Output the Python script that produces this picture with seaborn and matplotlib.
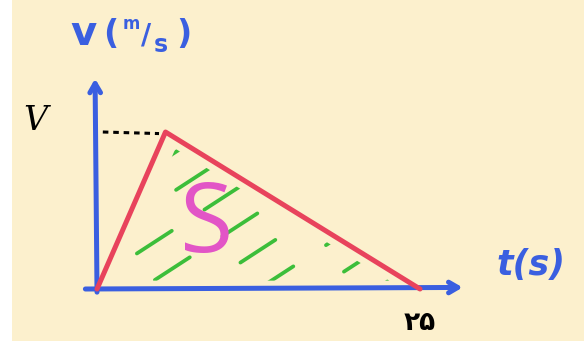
import numpy as np
import matplotlib
matplotlib.use("Agg")
import matplotlib.pyplot as plt
from matplotlib.patches import Polygon, Rectangle
from matplotlib.transforms import IdentityTransform
import seaborn as sns

# velocity-time sketch: rise to V, then linear fall to zero at t = 25 s
t_points = [0.0, 5.3, 25.0]
v_points = [0.0, 1.0, 0.0]
t_end_label = "۲۵"
v_peak_label = "V"
area_label = "S"

BG = "#FCF0CD"
BLUE = "#3A5FE0"
RED = "#E8435C"
GREEN = "#3CBE3A"
PINK = "#E255C6"

sns.set_theme(style="white", rc={"figure.facecolor": BG, "axes.facecolor": BG,
                                 "lines.scale_dashes": False})
plt.rcParams["font.family"] = ["DejaVu Sans", "Noto Sans"]

W, H = 584, 341
fig = plt.figure(figsize=(W / 100, H / 100), dpi=100)
ax = fig.add_axes([0, 0, 1, 1])
ax.set_xlim(-7.508, 37.69)
ax.set_ylim(-0.3312, 1.8408)
ax.axis("off")

# narrow white margin on the left edge of the sheet
fig.patches.append(Rectangle((0, 0), 12 / W, 1, transform=fig.transFigure,
                             facecolor="white", edgecolor="none", zorder=0))

t_axis_end = 28.3
v_axis_end = 1.34

# axes drawn as hand-style arrows
arrow = dict(arrowstyle="->,head_length=0.55,head_width=0.32", color=BLUE,
             lw=3.6, capstyle="round", joinstyle="round", shrinkA=0, shrinkB=0)
ax.annotate("", xy=(t_axis_end, 0.01), xytext=(-0.9, 0.0), arrowprops=arrow, zorder=2)
ax.annotate("", xy=(-0.15, v_axis_end), xytext=(0.0, -0.02), arrowprops=arrow, zorder=2)

# triangle outline
sns.lineplot(x=t_points, y=v_points, sort=False, estimator=None, color=RED,
             lw=3.6, ax=ax, zorder=4, solid_capstyle="round", solid_joinstyle="round")

# dashed guide to the peak speed
ax.plot([0.45, t_points[1] - 0.5], [v_points[1], v_points[1] - 0.01], color="black",
        lw=2.2, linestyle=(0, (4, 3.5)), zorder=3)

# hatching of the area under the curve, clipped to a slightly inset triangle
tri = np.column_stack([t_points, v_points])
cen = tri.mean(axis=0)
inset = cen + (tri - cen) * 0.84
clip = Polygon(inset, closed=True, transform=ax.transData, facecolor="none",
               edgecolor="none")
ax.add_patch(clip)

fig.canvas.draw()
disp = ax.transData.transform(tri)
ang = np.deg2rad(33)
u = np.array([np.cos(ang), np.sin(ang)])
n = np.array([-np.sin(ang), np.cos(ang)])
proj = disp @ n
offsets = np.arange(proj.min() + 24, proj.max() - 10, 32)
for i, c in enumerate(offsets):
    s = np.array([-600, 600])
    pts = c * n + s[:, None] * u
    ln, = ax.plot(pts[:, 0], pts[:, 1], transform=IdentityTransform(), color=GREEN,
                  lw=2.7, solid_capstyle="round", dash_capstyle="round",
                  linestyle=((i * 23) % 58, (30, 28)), zorder=3)
    ln.set_clip_path(clip)

# labels
ax.text(t_points[1] + 3.2, 0.40, area_label, color=PINK, fontsize=70,
        ha="center", va="center", fontweight="normal", family="Open Sans", zorder=5)
ax.text(25.0, -0.215, t_end_label, color="black", fontsize=19, fontweight="bold",
        ha="center", va="center", family=["DejaVu Sans", "Noto Sans"])
fig.text(35 / W, 1 - 121 / H, v_peak_label, color="black", fontsize=24,
         family="DejaVu Serif", style="italic", ha="center", va="center")
fig.text(531 / W, 1 - 265 / H, "t(s)", color=BLUE, fontsize=25, fontweight="bold",
         style="italic", ha="center", va="center")

# axis unit label v(m/s) assembled from pieces
unit_parts = [("v", 84, 34, 29), ("(", 111, 35, 24), ("m", 131, 24, 12),
              ("/", 146, 36, 20), ("s", 161, 45, 17), (")", 184, 35, 24)]
for txt, px, py, fs in unit_parts:
    fig.text(px / W, 1 - py / H, txt, color=BLUE, fontsize=fs, fontweight="bold",
             ha="center", va="center")

fig.savefig("out.png", dpi=100, facecolor=BG)
